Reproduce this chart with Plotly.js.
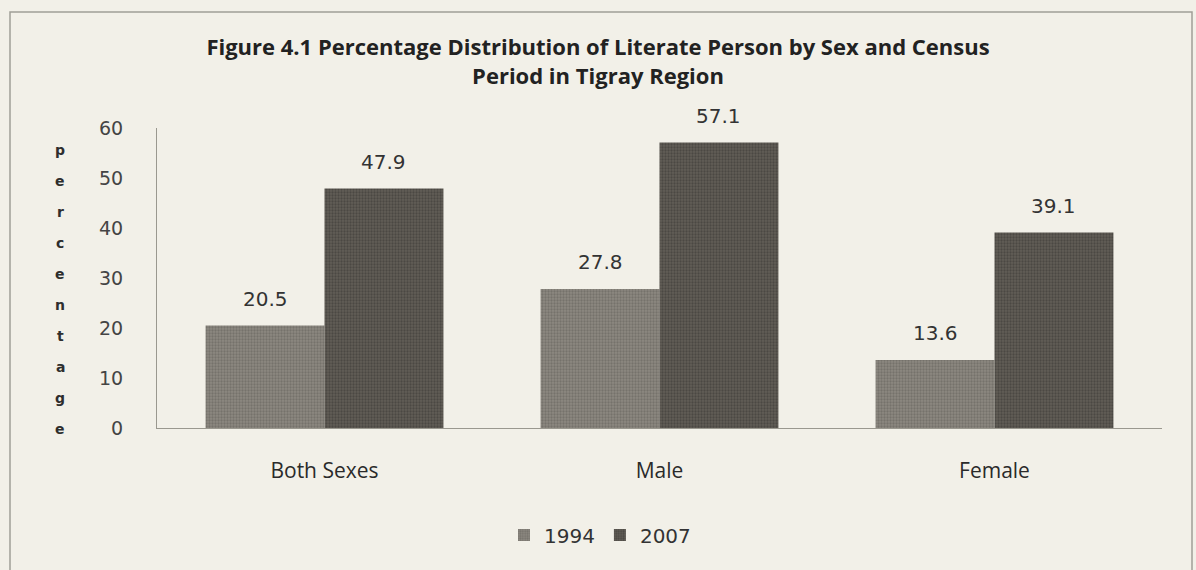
<!DOCTYPE html>
<html>
<head>
<meta charset="utf-8">
<script src="https://cdn.plot.ly/plotly-3.0.1.min.js"></script>
<style>
  html, body { margin: 0; padding: 0; background: #f2f0e8; }
  #chart { width: 1196px; height: 570px; }
</style>
</head>
<body>
<div id="chart"></div>
<script>
// ---- data ----
const categories = ["Both Sexes", "Male", "Female"];
const seriesNames = ["1994", "2007"];
const values1994 = [20.5, 27.8, 13.6];
const values2007 = [47.9, 57.1, 39.1];
const yTicks = [0, 10, 20, 30, 40, 50, 60];
const yTitleText = "percentage";
const chartTitle = "Figure 4.1 Percentage Distribution of Literate Person by Sex and Census<br>Period in Tigray Region";

// ---- layout geometry (pixels) ----
const W = 1196, H = 570;
const L = 157, R = 34, T = 128, B = 142;
const plotW = W - L - R, plotH = H - T - B;
const px2paperX = p => (p - L) / plotW;
const px2paperY = p => (H - B - p) / plotH;

const bg = "#f2f0e8";
const barGap = 0.29;
const barOffsetPx = plotW / categories.length * (1 - barGap) / 4;

const traces = [
  {
    type: "bar", name: seriesNames[0], x: categories, y: values1994,
    marker: {
      color: "#8a867e",
      pattern: {shape: ".", size: 3, solidity: 0.45, bgcolor: "#8d8981", fgcolor: "#75726b"},
      line: {width: 0}
    },
    hoverinfo: "skip"
  },
  {
    type: "bar", name: seriesNames[1], x: categories, y: values2007,
    marker: {
      color: "#5e5a53",
      pattern: {shape: ".", size: 3, solidity: 0.45, bgcolor: "#625e57", fgcolor: "#4b4843"},
      line: {width: 0}
    },
    hoverinfo: "skip"
  }
];

const annotations = [];
// data labels above bars
[values1994, values2007].forEach((vals, si) => {
  vals.forEach((v, i) => {
    annotations.push({
      x: categories[i], y: v, xref: "x", yref: "y",
      text: v.toFixed(1), showarrow: false,
      xshift: si === 0 ? -barOffsetPx : barOffsetPx,
      yshift: 27, yanchor: "middle",
      font: {family: "DejaVu Sans", size: 20, color: "#333333"}
    });
  });
});
// vertical stacked y-axis title letters
yTitleText.split("").forEach((ch, i) => {
  annotations.push({
    xref: "paper", yref: "paper",
    x: px2paperX(60), y: px2paperY(150 + 31 * i),
    text: ch, showarrow: false, xanchor: "center", yanchor: "middle",
    font: {family: "DejaVu Sans", size: 14, color: "#2e2e2e", weight: "bold"}
  });
});

const layout = {
  width: W, height: H,
  margin: {l: L, r: R, t: T, b: B, pad: 0},
  paper_bgcolor: bg, plot_bgcolor: bg,
  title: {
    text: chartTitle,
    x: 0.5, xref: "container", xanchor: "center",
    y: 1 - 55 / H, yref: "container", yanchor: "top",
    font: {family: "Open Sans", size: 22, color: "#222222", weight: "bold"}
  },
  barmode: "group", bargap: barGap, bargroupgap: 0,
  showlegend: true,
  legend: {
    orientation: "h", x: px2paperX(600), xanchor: "center",
    y: px2paperY(535), yanchor: "middle",
    font: {family: "DejaVu Sans", size: 20, color: "#333333"},
    bgcolor: "rgba(0,0,0,0)", itemwidth: 30, traceorder: "normal"
  },
  xaxis: {
    type: "category", showgrid: false, zeroline: false,
    showline: true, linecolor: "#9a988f", linewidth: 1,
    ticks: "", ticklabelstandoff: 24,
    tickfont: {family: "Open Sans", size: 21, color: "#2a2a2a"},
    fixedrange: true
  },
  yaxis: {
    range: [0, 60], tickvals: yTicks, ticktext: yTicks.map(String),
    showgrid: false, zeroline: false,
    showline: true, linecolor: "#9a988f", linewidth: 1,
    ticks: "", ticklabelstandoff: 29,
    tickfont: {family: "DejaVu Sans", size: 19, color: "#444444"},
    fixedrange: true
  },
  annotations: annotations,
  shapes: [{
    type: "rect", xref: "paper", yref: "paper",
    x0: px2paperX(10), x1: px2paperX(1192),
    y0: px2paperY(12), y1: px2paperY(620),
    line: {color: "#a09e96", width: 1.5}, fillcolor: "rgba(0,0,0,0)", layer: "below"
  }]
};

Plotly.newPlot("chart", traces, layout, {staticPlot: true, displayModeBar: false});
</script>
</body>
</html>
